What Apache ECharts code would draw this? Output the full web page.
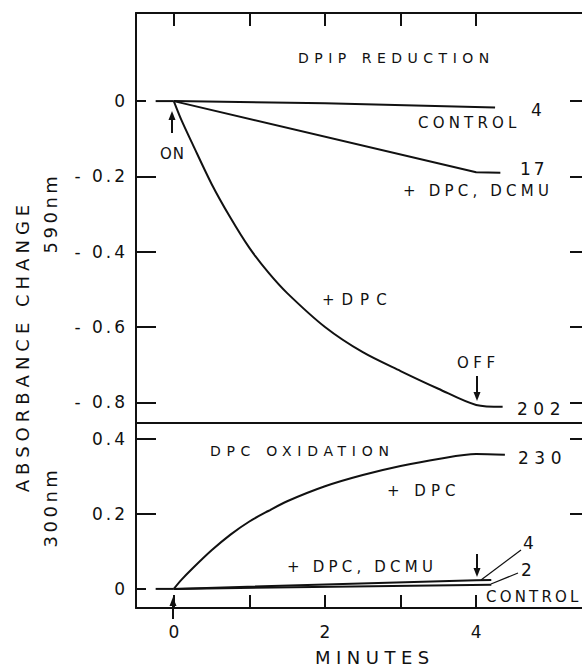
<!DOCTYPE html>
<html>
<head>
<meta charset="utf-8">
<script src="https://cdn.jsdelivr.net/npm/echarts@6/dist/echarts.min.js"></script>
<style>
	body { margin: 0; background: #fff; }
	#chart { width: 582px; height: 668px; }
</style>
</head>
<body>
<div id="chart"></div>
<script>
	// 时间 (min)
	var xTicks = [0, 1, 2, 3, 4];
	var xLabels = [0, 2, 4];
	var topTicks = [-0.8, -0.6, -0.4, -0.2];
	var topLabels = [-0.8, -0.6, -0.4, -0.2, 0];
	var botTicks = [0.2, 0.4];
	var botLabels = [0, 0.2, 0.4];

	// 光照前基线 (before ON)
	var baseT = [-0.24, 0];
	var baseV = [0, 0];

	// DPIP reduction, 590nm
	var dpipDpcT = [0, 0.1, 0.25, 0.5, 0.75, 1.0, 1.25, 1.5, 2.0, 2.5, 3.0, 3.5, 4.0, 4.35];
	var dpipDpcV = [0, -0.05, -0.115, -0.22, -0.31, -0.39, -0.455, -0.51, -0.60, -0.667, -0.717, -0.764, -0.807, -0.812];
	var dpipDcmuT = [0, 4.0, 4.32];
	var dpipDcmuV = [0, -0.189, -0.19];
	var dpipCtrlT = [0, 2.0, 4.25];
	var dpipCtrlV = [0, -0.006, -0.017];

	// DPC oxidation, 300nm
	var dpcDpcT = [0, 0.1, 0.25, 0.5, 0.75, 1.0, 1.25, 1.5, 2.0, 2.5, 3.0, 3.5, 4.0, 4.38];
	var dpcDpcV = [0, 0.024, 0.055, 0.103, 0.145, 0.18, 0.208, 0.234, 0.274, 0.304, 0.328, 0.347, 0.36, 0.358];
	var dpcDcmuT = [0, 4.0, 4.2];
	var dpcDcmuV = [0, 0.023, 0.024];
	var dpcCtrlT = [0, 4.2];
	var dpcCtrlV = [0, 0.011];

	function pairs(t, v) {
		var out = [];
		for(var i = 0; i < t.length; i++) {
			out.push([t[i], v[i]]);
		}
		return out;
	}

	var FONT = 'DejaVu Sans';
	var BLACK = '#111';

	function fmt(v) {
		if(v < 0) return '- ' + Math.abs(v).toFixed(1);
		if(v == 0) return '0';
		return v.toFixed(1);
	}

	function xAxisOf(grid, pos, ticks, labels, lineOnly) {
		return {
			type: 'value', gridIndex: grid, position: pos, min: -0.5, max: 5.4,
			axisLine: { show: true, onZero: false, lineStyle: { color: BLACK, width: 2 } },
			axisTick: { show: !lineOnly, inside: true, length: 13, customValues: ticks, lineStyle: { color: BLACK, width: 2 } },
			axisLabel: labels ? { show: true, customValues: labels, margin: 15, fontSize: 17, fontFamily: FONT, color: BLACK } : { show: false },
			splitLine: { show: false }
		};
	}

	function yAxisOf(grid, pos, min, max, ticks, len, labels, showLine) {
		return {
			type: 'value', gridIndex: grid, position: pos, min: min, max: max,
			axisLine: { show: showLine, onZero: false, lineStyle: { color: BLACK, width: 2 } },
			axisTick: { show: true, inside: true, length: len, customValues: ticks, lineStyle: { color: BLACK, width: 2 } },
			axisLabel: labels ? { show: true, customValues: labels, formatter: fmt, margin: 8, fontSize: 17, fontFamily: FONT, color: BLACK } : { show: false },
			splitLine: { show: false }
		};
	}

	function lineSeries(name, xi, yi, data, smooth) {
		return {
			name: name, type: 'line', xAxisIndex: xi, yAxisIndex: yi, data: data,
			symbol: 'none', smooth: smooth || false, silent: true, clip: false,
			lineStyle: { color: BLACK, width: 2 }
		};
	}

	function txt(s, x, y, size, align, rot) {
		return {
			type: 'text', x: x, y: y, rotation: rot || 0, silent: true,
			style: { text: s, fill: BLACK, font: size + 'px "' + FONT + '"', textAlign: align || 'left', textVerticalAlign: 'middle', verticalAlign: 'middle' }
		};
	}

	function arrow(x, y1, y2) {
		var d = y2 > y1 ? 1 : -1;
		return [
			{ type: 'line', silent: true, shape: { x1: x, y1: y1, x2: x, y2: y2 - d * 6 }, style: { stroke: BLACK, lineWidth: 2 } },
			{ type: 'polygon', silent: true, shape: { points: [[x - 3.5, y2 - d * 9], [x + 3.5, y2 - d * 9], [x, y2]] }, style: { fill: BLACK } }
		];
	}

	function leader(x1, y1, x2, y2) {
		return { type: 'line', silent: true, shape: { x1: x1, y1: y1, x2: x2, y2: y2 }, style: { stroke: BLACK, lineWidth: 1.2 } };
	}

	var graphics = [
		txt('DPIP REDUCTION', 298, 58, 14),
		txt('4', 531, 110, 17),
		txt('CONTROL', 418, 123, 15),
		txt('17', 520, 169, 17),
		txt('+ DPC, DCMU', 403, 191, 15),
		txt('+DPC', 322, 300, 15),
		txt('OFF', 457, 363, 15),
		txt('202', 517, 409, 17),
		txt('ON', 160, 154, 15),
		txt('DPC OXIDATION', 210, 451, 14),
		txt('230', 518, 458, 17),
		txt('+ DPC', 387, 491, 15),
		txt('+ DPC, DCMU', 287, 567, 15),
		txt('4', 523, 543, 17),
		txt('2', 521, 570, 17),
		txt('CONTROL', 486, 597, 15),
		txt('MINUTES', 315, 657, 18),
		txt('ABSORBANCE CHANGE', 22, 346, 18, 'center', Math.PI / 2),
		txt('590nm', 50, 213, 18, 'center', Math.PI / 2),
		txt('300nm', 50, 507, 18, 'center', Math.PI / 2),
		leader(481, 580, 521, 550),
		leader(491, 584, 518, 573)
	].concat(arrow(172, 133, 111), arrow(477, 376, 401), arrow(477, 554, 577), arrow(173, 619, 597));

	var option = {
		animation: false,
		backgroundColor: '#fff',
		grid: [
			{ left: 136, right: 0, top: 13, height: 410 },
			{ left: 136, right: 0, top: 423, height: 185 }
		],
		xAxis: [
			xAxisOf(0, 'top', xTicks, null, false),
			xAxisOf(0, 'bottom', xTicks, null, true),
			xAxisOf(1, 'bottom', xTicks, xLabels, false)
		],
		yAxis: [
			yAxisOf(0, 'left', -0.855, 0.234, topTicks, 20, topLabels, true),
			yAxisOf(0, 'left', -0.855, 0.234, [0], 10, null, false),
			yAxisOf(0, 'right', -0.855, 0.234, topLabels, 12, null, false),
			yAxisOf(1, 'left', -0.051, 0.443, botTicks, 20, botLabels, true),
			yAxisOf(1, 'left', -0.051, 0.443, [0], 10, null, false),
			yAxisOf(1, 'right', -0.051, 0.443, botTicks, 12, null, false)
		],
		series: [
			lineSeries('DPIP baseline', 0, 0, pairs(baseT, baseV)),
			lineSeries('DPIP +DPC', 0, 0, pairs(dpipDpcT, dpipDpcV), 0.3),
			lineSeries('DPIP +DPC, DCMU', 0, 0, pairs(dpipDcmuT, dpipDcmuV)),
			lineSeries('DPIP control', 0, 0, pairs(dpipCtrlT, dpipCtrlV)),
			lineSeries('DPC baseline', 2, 3, pairs(baseT, baseV)),
			lineSeries('DPC +DPC', 2, 3, pairs(dpcDpcT, dpcDpcV), 0.3),
			lineSeries('DPC +DPC, DCMU', 2, 3, pairs(dpcDcmuT, dpcDcmuV)),
			lineSeries('DPC control', 2, 3, pairs(dpcCtrlT, dpcCtrlV))
		],
		graphic: graphics
	};

	var myChart = echarts.init(document.getElementById('chart'), null, { renderer: 'svg' });
	myChart.setOption(option);

	//字间距 (letter spacing of the lettering), in document order when a text repeats
	var spacing = {
		'DPIP REDUCTION': [5.5], 'DPC OXIDATION': [5.7], 'CONTROL': [4.2, 3.2], '+ DPC, DCMU': [4.2],
		'+DPC': [7], '+ DPC': [5], 'OFF': [4.5], 'ON': [1], '202': [5.5], '230': [5.5], '17': [3],
		'MINUTES': [5.5], 'ABSORBANCE CHANGE': [5], '590nm': [3.5], '300nm': [3.5]
	};
	function applySpacing() {
		var texts = document.querySelectorAll('#chart text');
		var seen = {};
		for(var i = 0; i < texts.length; i++) {
			var key = texts[i].textContent;
			var list = spacing[key];
			var s = null;
			if(list) {
				var n = seen[key] || 0;
				s = list[Math.min(n, list.length - 1)];
				seen[key] = n + 1;
			} else if(texts[i].getAttribute('text-anchor') == 'end') {
				s = 3;
			}
			if(s != null) texts[i].setAttribute('letter-spacing', s + 'px');
		}
	}
	applySpacing();
	myChart.on('finished', applySpacing);
</script>
</body>
</html>
